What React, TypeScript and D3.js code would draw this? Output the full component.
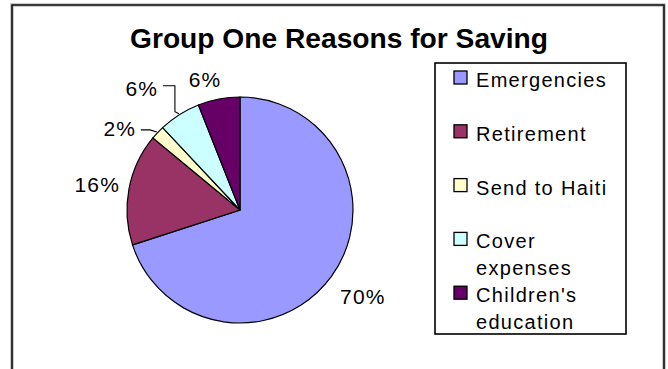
import React from "react";
import * as d3 from "d3";

const categories = ["Emergencies", "Retirement", "Send to Haiti", "Cover expenses", "Children's education"];
const values = [70, 16, 2, 6, 6];
const percentLabels = ["70%", "16%", "2%", "6%", "6%"];
const legendLines = [["Emergencies"], ["Retirement"], ["Send to Haiti"], ["Cover", "expenses"], ["Children's", "education"]];
const colors = ["#9999FF", "#993366", "#FFFFCC", "#CCFFFF", "#660066"];
const title = "Group One Reasons for Saving";

// layout (not data)
const labelAngleDeg = [125, 280, 304, 321, 345];
const labelRadius = [150, 145, 145, 156, 135];
const hasLeader = [false, false, true, true, false];

export default function App() {
  const W = 668, H = 369;
  const cx = 240, cy = 210, r = 113;
  const pie = d3.pie<number>().sort(null).value((d) => d);
  const arcs = pie(values);
  const arcGen = d3.arc<d3.PieArcDatum<number>>().innerRadius(0).outerRadius(r);
  const labelFont = "'Liberation Sans', Arial, sans-serif";

  const legendX = 435, legendY = 63, legendW = 191, legendH = 271;
  const base0 = 87, itemStep = 53.8, lineH = 27;

  return (
    <svg width={W} height={H} style={{ position: "absolute", left: 0, top: 0, background: "#fff" }}>
      {/* chart frame */}
      <path d={`M12,${H + 2} V5 H664 V${H + 2}`} fill="none" stroke="#bbb" strokeWidth={3.5} />
      <path d={`M12,${H + 2} V5 H664 V${H + 2}`} fill="none" stroke="#111" strokeWidth={1.6} />
      <text x={339} y={48} textAnchor="middle" fontFamily="'Liberation Sans Narrow', 'Liberation Sans', Arial, sans-serif" fontWeight="bold" fontSize={27} textLength={418} lengthAdjust="spacingAndGlyphs" fill="#000">{title}</text>

      <g transform={`translate(${cx},${cy})`}>
        {arcs.map((a, i) => (
          <path key={i} d={arcGen(a) || ""} fill={colors[i]} stroke="#000" strokeWidth={1.2} />
        ))}
        {arcs.map((a, i) => {
          const ang = (labelAngleDeg[i] * Math.PI) / 180;
          const lx = labelRadius[i] * Math.sin(ang);
          const ly = -labelRadius[i] * Math.cos(ang);
          const mid = (a.startAngle + a.endAngle) / 2;
          const ex = (r + 1) * Math.sin(mid);
          const ey = -(r + 1) * Math.cos(mid);
          let leader = null;
          if (hasLeader[i]) {
            const sx = lx + 21;
            const sy = i === 3 ? ly - 3 : ly + 1;
            const pts = i === 3
              ? [[sx, sy], [ex - 4, sy], [ex - 4, ey - 2], [ex, ey]]
              : [[sx, sy], [sx + 9, sy], [ex, ey]];
            leader = <polyline points={pts.map((p) => p.join(",")).join(" ")} fill="none" stroke="#000" strokeWidth={1.1} />;
          }
          return (
            <g key={"l" + i}>
              {leader}
              <text x={lx} y={ly} dy="0.36em" textAnchor="middle" fontFamily={labelFont} fontSize={21} letterSpacing={1.2} fill="#000">{percentLabels[i]}</text>
            </g>
          );
        })}
      </g>

      {/* legend */}
      <rect x={legendX} y={legendY} width={legendW} height={legendH} fill="#fff" stroke="#000" strokeWidth={1.6} />
      {legendLines.map((lines, i) => {
        const y = base0 + i * itemStep;
        return (
          <g key={"g" + i}>
            <rect x={454} y={y - 16} width={13} height={13} fill={colors[i]} stroke="#000" strokeWidth={1.3} />
            {lines.map((ln, j) => (
              <text key={j} x={476} y={y + j * lineH} fontFamily={labelFont} fontSize={20} letterSpacing={1.3} fill="#000">{ln}</text>
            ))}
          </g>
        );
      })}
    </svg>
  );
}
